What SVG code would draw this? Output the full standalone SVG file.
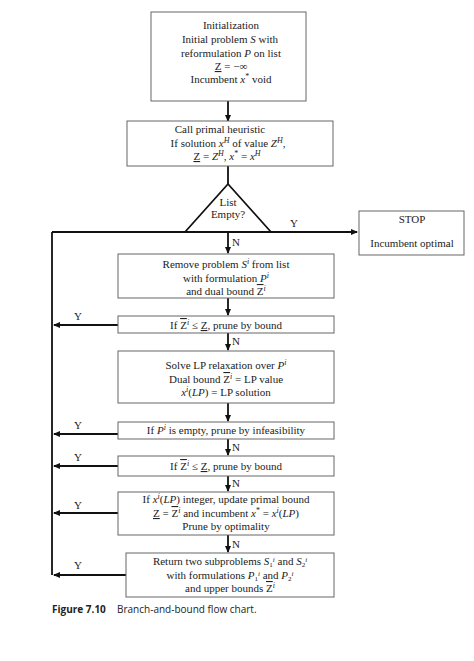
<svg xmlns="http://www.w3.org/2000/svg" width="474" height="661" viewBox="0 0 474 661">
<style>
.box{fill:#fff;stroke:#666;stroke-width:1}
.t{font-family:"Liberation Serif","Times New Roman",serif;font-size:11px;fill:#222;text-anchor:middle}
.i{font-style:italic}
.sup{font-size:8px;baseline-shift:super}
.sub{font-size:8px;baseline-shift:sub}
.sp{font-size:7px;baseline-shift:3.5px}
.sb{font-size:7px;baseline-shift:-1.5px}
.ul{text-decoration:underline}
.ol{text-decoration:overline}
.c{stroke:#111;stroke-width:1.8;fill:none}
.lb{font-family:"Liberation Serif","Times New Roman",serif;font-size:11px;fill:#222}
.cap{font-family:"Open Sans","Noto Sans",sans-serif;font-size:10px;fill:#222}
</style>
<defs>
<marker id="ah" markerWidth="7" markerHeight="6" refX="6" refY="3" orient="auto" markerUnits="userSpaceOnUse">
<path d="M0,0 L7,3 L0,6 z" fill="#111"/>
</marker>
</defs>
<rect width="474" height="661" fill="#fff"/>
<g id="connectors">
<path class="c" d="M228,101 V121" marker-end="url(#ah)"/>
<path class="c" d="M228,166 V184"/>
<path class="c" d="M52,232 H357" marker-end="url(#ah)"/>
<path class="c" d="M52,232 V575"/>
<path class="c" d="M228,232 V253" marker-end="url(#ah)"/>
<path class="c" d="M228,298 V315" marker-end="url(#ah)"/>
<path class="c" d="M228,333 V350" marker-end="url(#ah)"/>
<path class="c" d="M228,403 V421" marker-end="url(#ah)"/>
<path class="c" d="M228,439 V455" marker-end="url(#ah)"/>
<path class="c" d="M228,476 V491" marker-end="url(#ah)"/>
<path class="c" d="M228,535 V552" marker-end="url(#ah)"/>
<path class="c" d="M118,325 H54" marker-end="url(#ah)"/>
<path class="c" d="M118,434 H54" marker-end="url(#ah)"/>
<path class="c" d="M118,466 H54" marker-end="url(#ah)"/>
<path class="c" d="M118,513 H54" marker-end="url(#ah)"/>
<path class="c" d="M126,575 H54" marker-end="url(#ah)"/>
<text class="lb" x="290" y="227">Y</text>
<text class="lb" x="232" y="246">N</text>
<text class="lb" x="232" y="345">N</text>
<text class="lb" x="232" y="451">N</text>
<text class="lb" x="232" y="487">N</text>
<text class="lb" x="232" y="548">N</text>
<text class="lb" x="74" y="320">Y</text>
<text class="lb" x="74" y="429">Y</text>
<text class="lb" x="74" y="461">Y</text>
<text class="lb" x="74" y="509">Y</text>
<text class="lb" x="74" y="569">Y</text>
</g>
<g id="init">
<rect class="box" x="151" y="12" width="155" height="89"/>
<text class="t" x="231" y="29">Initialization</text>
<text class="t" x="230" y="43">Initial problem <tspan class="i">S</tspan> with</text>
<text class="t" x="231" y="57">reformulation  <tspan class="i">P</tspan>  on list</text>
<text class="t" x="231" y="70"><tspan class="ul">Z</tspan> = −∞</text>
<text class="t" x="231" y="83">Incumbent <tspan class="i">x</tspan><tspan class="sup">*</tspan> void</text>
</g>
<g id="heuristic">
<rect class="box" x="127" y="121" width="206" height="45"/>
<text class="t" x="220" y="133">Call primal heuristic</text>
<text class="t" x="228" y="147">If solution <tspan class="i">x</tspan><tspan class="sup i">H</tspan> of value <tspan class="i">Z</tspan><tspan class="sup i">H</tspan>,</text>
<text class="t" x="227" y="160"><tspan class="ul">Z</tspan> = <tspan class="i">Z</tspan><tspan class="sup i">H</tspan>, <tspan class="i">x</tspan><tspan class="sup">*</tspan> = <tspan class="i">x</tspan><tspan class="sup i">H</tspan></text>
</g>
<g id="decision">
<path d="M228,184 L185,232 L271,232 Z" fill="#fff" stroke="#111" stroke-width="1.8"/>
<text class="t" x="228" y="206">List</text>
<text class="t" x="228" y="218">Empty?</text>
</g>
<g id="stop">
<rect class="box" x="359" y="211" width="105" height="44"/>
<text class="t" x="412" y="223">STOP</text>
<text class="t" x="412" y="247">Incumbent optimal</text>
</g>
<g id="remove">
<rect class="box" x="118" y="254" width="216" height="44"/>
<text class="t" x="226" y="268">Remove problem <tspan class="i">S</tspan><tspan class="sup i">i</tspan> from list</text>
<text class="t" x="226" y="282">with formulation  <tspan class="i">P</tspan><tspan class="sup i">i</tspan></text>
<text class="t" x="226" y="295">and dual bound  <tspan class="ol">Z</tspan><tspan class="sup i">i</tspan></text>
</g>
<g id="prune1">
<rect class="box" x="118" y="316" width="216" height="17"/>
<text class="t" x="226" y="329">If <tspan class="ol">Z</tspan><tspan class="sup i">i</tspan> ≤ <tspan class="ul">Z</tspan>, prune by bound</text>
</g>
<g id="solve">
<rect class="box" x="118" y="351" width="216" height="52"/>
<text class="t" x="226" y="369">Solve LP relaxation over <tspan class="i">P</tspan><tspan class="sup i">i</tspan></text>
<text class="t" x="226" y="383">Dual bound <tspan class="ol">Z</tspan><tspan class="sup i">i</tspan> = LP value</text>
<text class="t" x="226" y="396"><tspan class="i">x</tspan><tspan class="sup i">i</tspan>(<tspan class="i">LP</tspan>) = LP solution</text>
</g>
<g id="infeas">
<rect class="box" x="118" y="422" width="216" height="17"/>
<text class="t" x="226" y="434">If <tspan class="i">P</tspan><tspan class="sup i">i</tspan> is empty, prune by infeasibility</text>
</g>
<g id="prune2">
<rect class="box" x="118" y="456" width="216" height="20"/>
<text class="t" x="226" y="470">If <tspan class="ol">Z</tspan><tspan class="sup i">i</tspan> ≤ <tspan class="ul">Z</tspan>, prune by bound</text>
</g>
<g id="integer">
<rect class="box" x="118" y="492" width="216" height="43"/>
<text class="t" x="226" y="503">If <tspan class="i">x</tspan><tspan class="sup i">i</tspan>(<tspan class="i">LP</tspan>) integer, update primal bound</text>
<text class="t" x="226" y="517"><tspan class="ul">Z</tspan> = <tspan class="ol">Z</tspan><tspan class="sup i">i</tspan> and incumbent  <tspan class="i">x</tspan><tspan class="sup">*</tspan> = <tspan class="i">x</tspan><tspan class="sup i">i</tspan>(<tspan class="i">LP</tspan>)</text>
<text class="t" x="226" y="530">Prune by optimality</text>
</g>
<g id="branch">
<rect class="box" x="126" y="553" width="208" height="44"/>
<text class="t" x="230" y="565">Return two subproblems <tspan class="i">S</tspan><tspan class="sb">1</tspan><tspan class="sp i">i</tspan>  and  <tspan class="i">S</tspan><tspan class="sb">2</tspan><tspan class="sp i">i</tspan></text>
<text class="t" x="230" y="579">with formulations <tspan class="i">P</tspan><tspan class="sb">1</tspan><tspan class="sp i">i</tspan> and  <tspan class="i">P</tspan><tspan class="sb">2</tspan><tspan class="sp i">i</tspan></text>
<text class="t" x="230" y="592">and upper bounds  <tspan class="ol">Z</tspan><tspan class="sup i">i</tspan></text>
</g>
<g id="caption">
<text class="cap" x="52" y="613"><tspan font-weight="bold">Figure 7.10</tspan><tspan x="117">Branch-and-bound flow chart.</tspan></text>
</g>
</svg>
